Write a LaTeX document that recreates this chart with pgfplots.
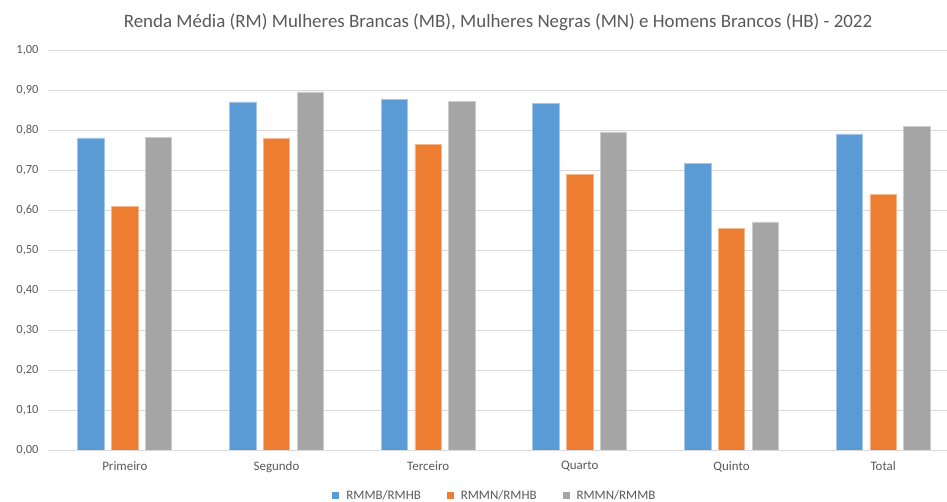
\documentclass[border=0pt]{standalone}
\usepackage{pgfplots}
\pgfplotsset{compat=1.18}
\usepackage{fontspec}
\setmainfont{Carlito}
\definecolor{cblue}{HTML}{5B9BD5}
\definecolor{corange}{HTML}{ED7D31}
\definecolor{cgray}{HTML}{A5A5A5}
\definecolor{gridc}{HTML}{D9D9D9}
\definecolor{txt}{HTML}{595959}
\begin{document}
\begin{tikzpicture}[x=1bp,y=1bp]
\path[use as bounding box] (0,0) rectangle (947,502);
\node[font=\fontsize{19}{22}\selectfont, text=txt] at (498,480) {Renda Média (RM) Mulheres Brancas (MB), Mulheres Negras (MN) e Homens Brancos (HB) - 2022};
\begin{axis}[
  at={(49bp,52bp)}, anchor=south west,
  scale only axis, width=910bp, height=400bp,
  xmin=-0.5, xmax=5.5, ymin=0, ymax=1,
  ytick={0,0.1,0.2,0.3,0.4,0.5,0.6,0.7,0.8,0.9,1.0},
  xtick={0,1,2,3,4,5},
  xticklabels={Primeiro,Segundo,Terceiro,Quarto,Quinto,Total},
  ymajorgrids, grid style={draw=gridc, line width=0.9bp},
  axis line style={draw=none},
  major tick length=0pt,
  /pgf/number format/.cd, fixed, fixed zerofill, precision=2, use comma, assume math mode=true,
  /pgfplots/.cd,
  yticklabel style={font=\fontsize{12.5}{14}\selectfont, text=txt, xshift=-7bp},
  xticklabel style={font=\fontsize{13}{15}\selectfont, text=txt, yshift=-8bp},
  ybar, bar width=26.5bp,
  legend style={at={(0.490,-0.115)}, anchor=center, draw=none, legend columns=3,
    font=\fontsize{13}{15}\selectfont, text=txt,
    /tikz/every odd column/.append style={column sep=5bp},
    /tikz/every even column/.append style={column sep=24bp}},
  legend image code/.code={\fill[#1,draw=none] (0bp,-3.5bp) rectangle (7bp,3.5bp);},
]
\addplot[fill=cblue, draw=cblue!55!white, line width=0.8bp, bar shift=-33.8bp] coordinates {(0,0.780) (1,0.870) (2,0.877) (3,0.866) (4,0.716) (5,0.790)};
\addplot[fill=corange, draw=corange!55!white, line width=0.8bp, bar shift=0bp] coordinates {(0,0.608) (1,0.778) (2,0.763) (3,0.688) (4,0.553) (5,0.638)};
\addplot[fill=cgray, draw=cgray!55!white, line width=0.8bp, bar shift=33.8bp] coordinates {(0,0.782) (1,0.895) (2,0.872) (3,0.795) (4,0.570) (5,0.808)};
\legend{RMMB/RMHB, RMMN/RMHB, RMMN/RMMB}
\end{axis}
\end{tikzpicture}
\end{document}
